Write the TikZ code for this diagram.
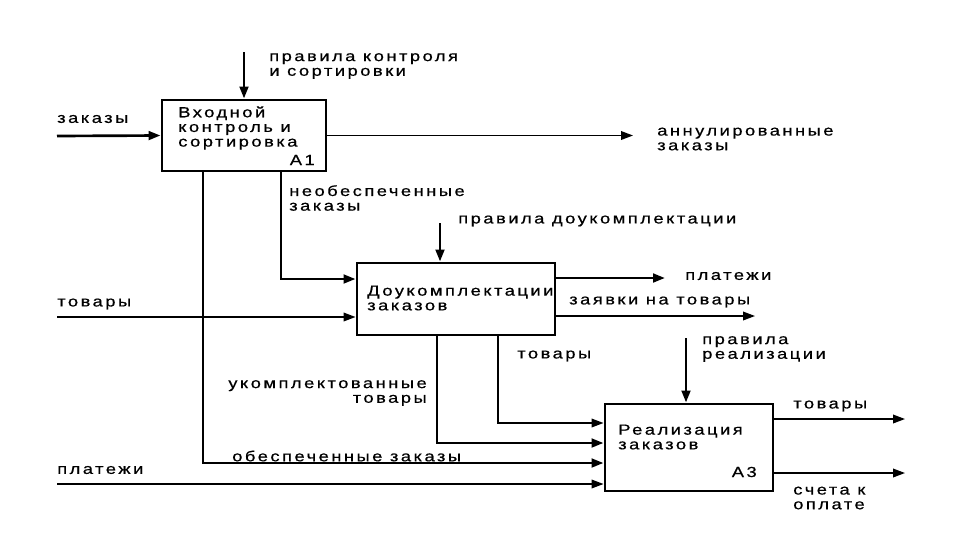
\documentclass[tikz,border=0pt]{standalone}
\usepackage{fontspec}
\setmainfont{Liberation Sans}[FakeStretch=1.25,LetterSpace=17,FakeBold=0.6]
\usetikzlibrary{arrows.meta}
\tikzset{
  box/.style={draw, line width=2.2pt, inner sep=0pt},
  lbl/.style={inner sep=0pt, anchor=west, align=left, font=\fontsize{11}{11}\selectfont},
  rlbl/.style={inner sep=0pt, anchor=east, align=right, font=\fontsize{11}{11}\selectfont},
  heavy/.style={line width=2pt, -{Triangle[length=9pt,width=6.5pt]}},
  light/.style={line width=1.1pt, -{Triangle[length=9pt,width=6.5pt]}},
}
\begin{document}
\begin{tikzpicture}[x=0.75pt,y=-0.75pt]
\useasboundingbox (0,0) rectangle (960,540);
\fill[white] (0,0) rectangle (960,540);
% boxes
\node[box, minimum width=123pt, minimum height=53.25pt] (b1) at (244,135.5) {};
\node[box, minimum width=148.5pt, minimum height=54pt] (b2) at (456,299) {};
\node[box, minimum width=126pt, minimum height=65.25pt] (b3) at (689,447.5) {};
% box texts
\node[lbl] (t1) at (178,128) {Входной\\контроль и\\сортировка};
\node[rlbl] (a1) at (315,160) {A1};
\node[lbl] (t2) at (367,298) {Доукомплектации\\заказов};
\node[lbl] (t3) at (618,437) {Реализация\\заказов};
\node[rlbl] (a3) at (757,472) {A3};
% labels
\node[lbl] (l1) at (269,66) {правила контроля\\и сортировки};
\node[lbl] (l2) at (57,119) {заказы};
\node[lbl] (l3) at (657,139) {аннулированные\\заказы};
\node[lbl] (l4) at (289,198) {необеспеченные\\заказы};
\node[lbl] (l5) at (458,221) {правила доукомплектации};
\node[lbl] (l6) at (57,304) {товары};
\node[lbl] (l7) at (685,276) {платежи};
\node[lbl] (l8) at (569,302) {заявки на товары};
\node[lbl] (l9) at (517,356) {товары};
\node[rlbl] (l10) at (427,393) {укомплектованные\\товары};
\node[lbl] (l11) at (232,456) {обеспеченные заказы};
\node[lbl] (l12) at (57,470) {платежи};
\node[lbl] (l13) at (702,349) {правила\\реализации};
\node[lbl] (l14) at (793,406) {товары};
\node[lbl] (l15) at (793,498) {счета к\\оплате};
% coordinates
\coordinate (c1) at (244,52);
\coordinate (in1) at (57,136);
\coordinate (o1) at (633,135.5);
\coordinate (x203) at (203,463);
\coordinate (x281) at (281,279);
\coordinate (in2) at (57,317);
\coordinate (c2) at (440,223);
\coordinate (o21) at (665,278);
\coordinate (o22) at (755,316);
\coordinate (x437) at (437,443);
\coordinate (x498) at (498,423);
\coordinate (in3) at (57,484);
\coordinate (c3) at (686,338);
\coordinate (o31) at (905,419);
\coordinate (o32) at (905,473);
% connectors
\draw[heavy] (c1) -- (b1.north);
\draw[heavy] (in1) -- (b1.west);
\draw[light] (b1.east) -- (o1);
\draw[heavy] (b1.south -| x203) -- (x203) -- (b3.west |- x203);
\draw[heavy] (b1.south -| x281) -- (x281) -- (b2.west |- x281);
\draw[light] (in2) -- (b2.west |- in2);
\draw[heavy] (c2) -- (b2.north -| c2);
\draw[heavy] (b2.east |- o21) -- (o21);
\draw[light] (b2.east |- o22) -- (o22);
\draw[heavy] (b2.south -| x437) -- (x437) -- (b3.west |- x437);
\draw[light] (b2.south -| x498) -- (x498) -- (b3.west |- x498);
\draw[light] (in3) -- (b3.west |- in3);
\draw[heavy] (c3) -- (b3.north -| c3);
\draw[light] (b3.east |- o31) -- (o31);
\draw[light] (b3.east |- o32) -- (o32);
\end{tikzpicture}
\end{document}
